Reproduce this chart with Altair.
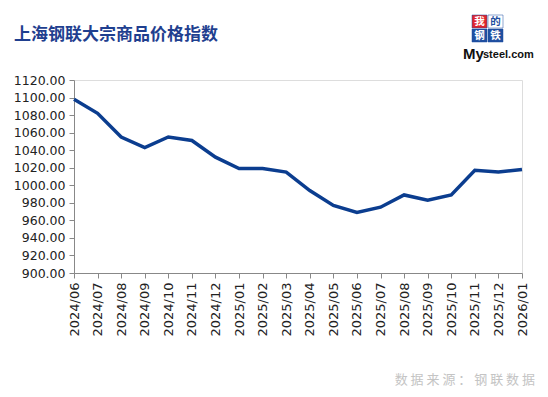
import altair as alt
import pandas as pd

months = ["2024/06", "2024/07", "2024/08", "2024/09", "2024/10", "2024/11", "2024/12",
          "2025/01", "2025/02", "2025/03", "2025/04", "2025/05", "2025/06", "2025/07",
          "2025/08", "2025/09", "2025/10", "2025/11", "2025/12", "2026/01"]
values = [1098, 1082, 1055, 1043, 1055, 1051, 1032,
          1019, 1019, 1015, 994, 977, 969, 975,
          989, 983, 989, 1017, 1015, 1018]
y_ticks = list(range(900, 1121, 20))

title_text = "上海钢联大宗商品价格指数"
source_text = "数 据 来 源 ： 钢 联 数 据"

df = pd.DataFrame({"month": months, "value": values})

base = alt.Chart(df)

line = base.mark_line(color="#0b3d8f", strokeWidth=3.5).encode(
    x=alt.X("month:O", sort=months,
            scale=alt.Scale(type="point", padding=0),
            axis=alt.Axis(title=None, labelAngle=-90, labelFont="DejaVu Sans",
                          labelFontSize=13, labelColor="#222", labelPadding=4,
                          tickSize=5, tickColor="#888", domainColor="#888",
                          labelAlign="right", labelBaseline="middle", grid=False)),
    y=alt.Y("value:Q", scale=alt.Scale(domain=[900, 1120], nice=False, zero=False),
            axis=alt.Axis(title=None, values=y_ticks, format=".2f",
                          labelFont="DejaVu Sans", labelFontSize=12.5, labelColor="#222",
                          labelPadding=4, tickSize=5, tickColor="#888",
                          domainColor="#888", grid=False)),
)

title = alt.Chart(pd.DataFrame({"t": [title_text]})).mark_text(
    font="Noto Sans CJK SC", fontSize=17, fontWeight="bold", color="#1f3f8f",
    align="left", baseline="middle"
).encode(x=alt.value(-60), y=alt.value(-45), text="t:N")

source = alt.Chart(pd.DataFrame({"t": [source_text]})).mark_text(
    font="Noto Sans CJK SC", fontSize=13, color="#c4c4c4",
    align="right", baseline="middle"
).encode(x=alt.value(461), y=alt.value(300), text="t:N")

logo_df = pd.DataFrame({
    "ch": ["我", "的", "钢", "铁"],
    "x1": [398, 414, 398, 414],
    "y1": [-65, -65, -51, -51],
    "bg": ["#e0242c", "#ffffff", "#1f4fa0", "#1f4fa0"],
    "fg": ["#ffffff", "#1f4fa0", "#ffffff", "#ffffff"],
})
logo_df["x2"] = logo_df["x1"] + 15
logo_df["y2"] = logo_df["y1"] + 13
logo_df["xc"] = logo_df["x1"] + 7.5
logo_df["yc"] = logo_df["y1"] + 7

logo_rect = alt.Chart(logo_df).mark_rect(stroke="#1f4fa0", strokeWidth=0.5).encode(
    x=alt.X("x1:Q", scale=None), x2="x2:Q",
    y=alt.Y("y1:Q", scale=None), y2="y2:Q",
    fill=alt.Fill("bg:N", scale=None),
)
logo_text = alt.Chart(logo_df).mark_text(
    font="Noto Sans CJK SC", fontSize=10.5, fontWeight="bold", baseline="middle", align="center"
).encode(
    x=alt.X("xc:Q", scale=None), y=alt.Y("yc:Q", scale=None),
    text="ch:N", color=alt.Color("fg:N", scale=None),
)

my = alt.Chart(pd.DataFrame({"t": ["My"]})).mark_text(
    font="Liberation Sans", fontSize=15, fontWeight="bold", color="#111",
    align="left", baseline="middle"
).encode(x=alt.value(389), y=alt.value(-26), text="t:N")
steel = alt.Chart(pd.DataFrame({"t": ["steel.com"]})).mark_text(
    font="Liberation Sans", fontSize=11, fontWeight="bold", color="#111",
    align="left", baseline="middle"
).encode(x=alt.value(409), y=alt.value(-25), text="t:N")

chart = alt.layer(line, title, source, logo_rect, logo_text, my, steel).properties(
    width=448, height=193,
    autosize=alt.AutoSizeParams(type="none"),
    padding={"left": 66, "top": 72, "right": 18, "bottom": 116},
).configure_view(stroke=None).configure(background="#ffffff")

chart.save("out.html", embed_options={"renderer": "svg", "actions": False})
